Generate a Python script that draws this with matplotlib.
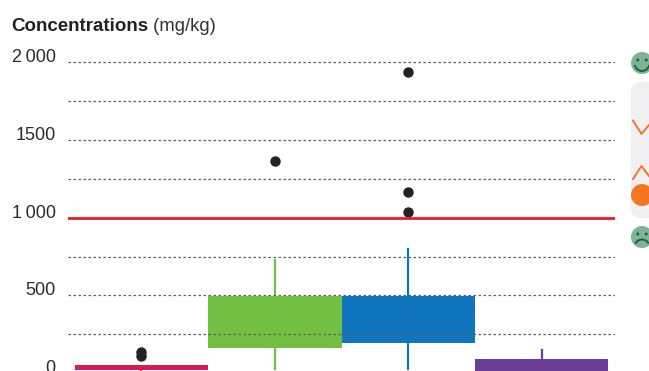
import matplotlib
matplotlib.use("Agg")
import matplotlib.pyplot as plt
from matplotlib.patches import Circle, Arc, FancyBboxPatch

plt.rcParams["font.family"] = ["Liberation Sans", "DejaVu Sans"]

# valeurs (mg/kg)
couleurs = ["#d81e4f", "#72bf44", "#0f75bc", "#6c3d96"]
q1 = [19, 160, 195, 0]
q3 = [50, 495, 495, 90]
whisker_bas = [0, 25, 25, 0]
whisker_haut = [50, 725, 800, 150]
outliers = [[135, 112], [1365], [1940, 1165, 1035], []]
grid_vals = [250, 500, 750, 1000, 1250, 1500, 1750, 2000]
tick_labels = ["", "500", "", "1\u2009000", "", "1500", "", "2\u2009000"]
seuil = 1000

W, H = 649, 371


def smiley(ov, cx, cy, happy=True):
    ov.add_patch(Circle((cx, cy), 11, fc="#7fb394", ec="none"))
    trait = "#17663f"
    for dx in (-4.2, 4.2):
        ov.add_patch(Circle((cx + dx, cy - 3), 1.5, fc=trait, ec="none"))
    if happy:
        ov.add_patch(Arc((cx, cy), 15, 16, theta1=15, theta2=165, color=trait, lw=1.4))
    else:
        ov.add_patch(Arc((cx, cy + 9), 14, 13, theta1=200, theta2=340, color=trait, lw=1.4))


fig = plt.figure(figsize=(W / 100, H / 100), dpi=100)
ax = fig.add_axes([68 / W, 0, (615 - 68) / W, (H - 40) / H])

stats = []
for i in range(len(q1)):
    stats.append({"med": q3[i], "q1": q1[i], "q3": q3[i], "whislo": whisker_bas[i],
                  "whishi": whisker_haut[i], "fliers": outliers[i]})
res = ax.bxp(stats, positions=range(4), widths=1.0, patch_artist=True, showcaps=False,
             flierprops=dict(marker="o", markerfacecolor="#222222", markeredgecolor="#222222",
                             markersize=6.5))
for i, c in enumerate(couleurs):
    res["boxes"][i].set(facecolor=c, edgecolor=c, linewidth=0)
    res["medians"][i].set_visible(False)
    res["whiskers"][2 * i].set(color=c, linewidth=1.6)
    res["whiskers"][2 * i + 1].set(color=c, linewidth=1.6)

ax.axhline(seuil, color="#ec1c24", lw=2.0, zorder=4)

ax.set_xlim(-0.551, 3.55)
ax.set_ylim(13, 2144)
ax.set_xticks([])
ax.set_yticks(grid_vals, tick_labels, fontsize=13, color="#2b2b2b")
ax.tick_params(axis="y", length=0, pad=9)
for lab in ax.get_yticklabels():
    lab.set_verticalalignment("baseline")
ax.set_axisbelow(False)
ax.grid(axis="y", color="#5f5f5f", lw=0.9, linestyle=(0, (2, 2)))
for s in ax.spines.values():
    s.set_visible(False)
ax.patch.set_alpha(0)

# surcouche en pixels : titre, "0" et jauge de droite
ov = fig.add_axes([0, 0, 1, 1], zorder=5)
ov.set_xlim(0, W)
ov.set_ylim(H, 0)
ov.axis("off")
t = ov.text(11, 31, "Concentrations", fontsize=13.5, fontweight="bold", color="#222222")
ov.annotate(" (mg/kg)", xy=(1, 0), xycoords=t, va="bottom", fontsize=13.3, color="#333333")
ov.text(55, 373, "0", fontsize=13, ha="right", color="#2b2b2b")

smiley(ov, 642, 63, True)
ov.add_patch(FancyBboxPatch((631, 82), 60, 136, boxstyle="round,pad=0,rounding_size=10",
                            fc="#f0eff2", ec="none"))
ov.plot([633, 641.5, 649], [120.5, 134, 125], color="#f47521", lw=1.4)
ov.plot([633, 641.5, 649], [179, 166, 176], color="#f47521", lw=1.4)
ov.add_patch(Circle((642, 195), 11, fc="#f47521", ec="none", zorder=3))
smiley(ov, 642, 237, False)

fig.savefig("out.png", dpi=100)
